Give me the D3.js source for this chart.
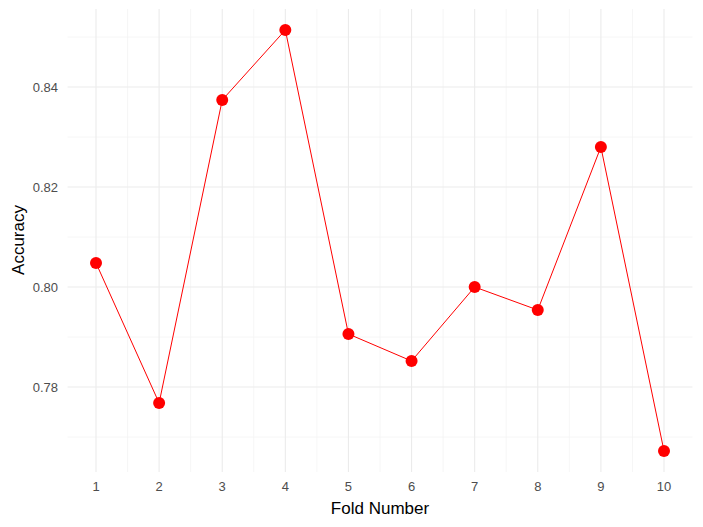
<!doctype html>
<html>
<head>
<script src="https://d3js.org/d3.v7.min.js"></script>
<style>body{margin:0;background:#fff;font-family:"Liberation Sans",Arial,sans-serif}</style>
</head>
<body>
<div class="graph"></div>
<script>
var folds = [1,2,3,4,5,6,7,8,9,10];
var accuracy = [0.8048,0.7768,0.8374,0.8514,0.7906,0.7852,0.8000,0.7954,0.8280,0.7672];
var yTicks = [0.78,0.80,0.82,0.84];
var yMinor = [0.77,0.79,0.81,0.83,0.85];

var width = 703, height = 527;
var svg = d3.select('.graph').append('svg').attr('width',width).attr('height',height);

var x = d3.scaleLinear().domain([0.55,10.45]).range([67.6,692.4]);
var y = d3.scaleLinear().domain([0.763,0.8556]).range([472,9]);

var grid = svg.append('g');
var xMinor = d3.range(1.5,10,1);
grid.selectAll('.xm').data(xMinor).enter().append('line')
  .attr('x1',d=>x(d)).attr('x2',d=>x(d)).attr('y1',9).attr('y2',472)
  .attr('stroke','#f4f4f4').attr('stroke-width',0.8);
grid.selectAll('.ym').data(yMinor).enter().append('line')
  .attr('x1',67.6).attr('x2',692.4).attr('y1',d=>y(d)).attr('y2',d=>y(d))
  .attr('stroke','#f4f4f4').attr('stroke-width',0.8);
grid.selectAll('.xM').data(folds).enter().append('line')
  .attr('x1',d=>x(d)).attr('x2',d=>x(d)).attr('y1',9).attr('y2',472)
  .attr('stroke','#ebebeb').attr('stroke-width',1.1);
grid.selectAll('.yM').data(yTicks).enter().append('line')
  .attr('x1',67.6).attr('x2',692.4).attr('y1',d=>y(d)).attr('y2',d=>y(d))
  .attr('stroke','#ebebeb').attr('stroke-width',1.1);

svg.append('g').selectAll('text').data(folds).enter().append('text')
  .attr('x',d=>x(d)).attr('y',491).attr('text-anchor','middle')
  .attr('font-size',13).attr('fill','#4d4d4d').text(d=>d);
svg.append('g').selectAll('text').data(yTicks).enter().append('text')
  .attr('x',58).attr('y',d=>y(d)+4.5).attr('text-anchor','end')
  .attr('font-size',13).attr('fill','#4d4d4d').text(d=>d.toFixed(2));

var pts = folds.map((f,i)=>[f,accuracy[i]]);
svg.append('path').datum(pts)
  .attr('d',d3.line().x(d=>x(d[0])).y(d=>y(d[1])))
  .attr('fill','none').attr('stroke','red').attr('stroke-width',1);
svg.append('g').selectAll('circle').data(pts).enter().append('circle')
  .attr('cx',d=>x(d[0])).attr('cy',d=>y(d[1])).attr('r',6).attr('fill','red');

svg.append('text').attr('x',380).attr('y',514).attr('text-anchor','middle')
  .attr('font-size',17).attr('fill','#000').text('Fold Number');
svg.append('text').attr('transform','translate(24,240) rotate(-90)')
  .attr('text-anchor','middle').attr('font-size',17).attr('fill','#000').text('Accuracy');
</script>
</body>
</html>
